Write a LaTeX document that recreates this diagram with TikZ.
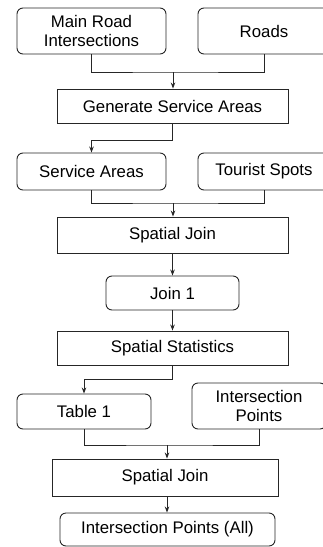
\documentclass[tikz,border=0pt]{standalone}
\usepackage{fontspec}
\setmainfont{Liberation Sans}
\usetikzlibrary{arrows.meta}

\begin{document}
\begin{tikzpicture}[x=1pt,y=-1pt,->,>={Stealth[length=6pt,width=4.5pt]},line width=0.9pt]
   \useasboundingbox (0,0) rectangle (323,547);
   \clip (0,0) rectangle (323,547);
   \fontsize{16.8}{19}\selectfont
   \tikzstyle{data}=[rectangle, rounded corners=6pt, draw=black!85, align=center, inner sep=0pt]
   \tikzstyle{tool}=[rectangle, draw=black!85, align=center, inner sep=0pt]
   \tikzstyle{every edge}=[draw=black!85]
   % inputs
   \node[data, minimum width=149pt, minimum height=46pt] (mri) at (91.5,31) {Main Road\\Intersections};
   \node[data, minimum width=132pt, minimum height=46pt] (roads) at (264,31) {Roads};
   \node[tool, minimum width=231pt, minimum height=34pt] (gsa) at (172.5,106) {Generate Service Areas};
   \node[data, minimum width=149pt, minimum height=37pt] (areas) at (91.5,171.5) {Service Areas};
   \node[data, minimum width=132pt, minimum height=37pt] (spots) at (264,171.5) {Tourist Spots};
   \node[tool, minimum width=231pt, minimum height=36pt] (join) at (172.5,235) {Spatial Join};
   \node[data, minimum width=133pt, minimum height=34pt] (join1) at (172.5,293) {Join 1};
   \node[tool, minimum width=231pt, minimum height=34pt] (stats) at (172.5,348) {Spatial Statistics};
   \node[data, minimum width=134pt, minimum height=35pt] (table1) at (84,411.5) {Table 1};
   \node[data, minimum width=134pt, minimum height=46pt] (ipts) at (259,406) {Intersection\\Points};
   \node[tool, minimum width=226pt, minimum height=37pt] (join2) at (165,477.5) {Spatial Join};
   \node[data, minimum width=215pt, minimum height=33pt] (ipall) at (167.5,529.5) {Intersection Points (All)};
   % junctions
   \coordinate (m1) at (173,72);
   \coordinate (m2) at (91.5,140);
   \coordinate (m3) at (173,203);
   \coordinate (m4) at (84,379);
   \coordinate (m5) at (167,445);
   \draw[-, black!85] (mri.south) |- (m1) -| (roads.south);
   \path (m1) edge (m1 |- gsa.north);
   \draw[black!85] (gsa.south) |- (m2) -- (areas.north);
   \draw[-, black!85] (areas.south) |- (m3) -| (spots.south);
   \path (m3) edge (m3 |- join.north);
   \path (join.south) edge (join1.north);
   \path (join1.south) edge (stats.north);
   \draw[black!85] (stats.south) |- (m4) -- (table1.north);
   \draw[-, black!85] (table1.south) |- (m5) -| (ipts.south);
   \path (m5) edge (m5 |- join2.north);
   \path (m5 |- join2.south) edge (m5 |- ipall.north);
\end{tikzpicture}
\end{document}
